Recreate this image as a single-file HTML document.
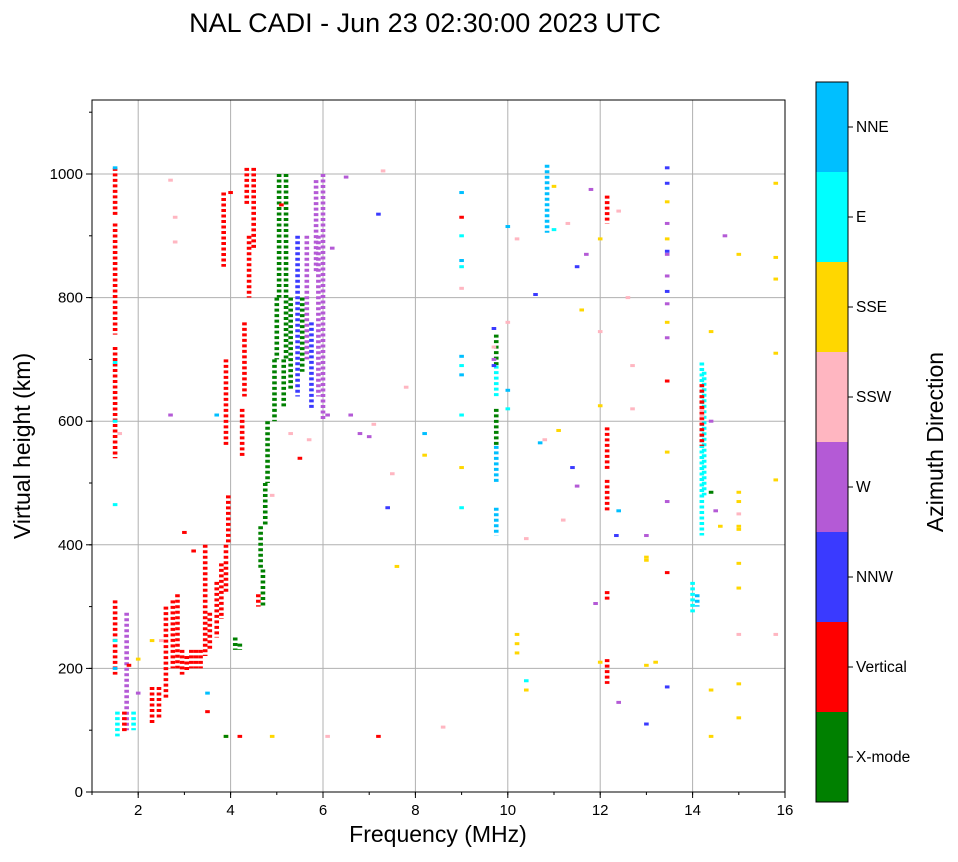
<!DOCTYPE html>
<html><head><meta charset="utf-8"><style>
html,body{margin:0;padding:0;background:#fff;}
svg text{font-family:"Liberation Sans",sans-serif;}
</style></head><body>
<svg id="chart" width="958" height="857" xmlns="http://www.w3.org/2000/svg">
<rect width="958" height="857" fill="#fff"/>
<text x="425" y="32" font-size="27" text-anchor="middle">NAL CADI - Jun 23 02:30:00 2023 UTC</text>
<g id="grid"></g>
<g id="marks"></g>
<rect x="92" y="100" width="693" height="692" fill="none" stroke="#000" stroke-width="1"/>
<g id="axes"></g>
<text x="438" y="842" font-size="23" text-anchor="middle">Frequency (MHz)</text>
<text x="30" y="446" font-size="23" text-anchor="middle" transform="rotate(-90 30 446)">Virtual height (km)</text>
<g id="cbar"></g>
<text x="943" y="442" font-size="23" text-anchor="middle" transform="rotate(-90 943 442)">Azimuth Direction</text>
</svg>
<script>
const colorNames=["X-mode","Vertical","NNW","W","SSW","SSE","E","NNE"];
const colorVals=["#008000","#ff0000","#3a3aff","#b45ad6","#ffb6c1","#ffd700","#00ffff","#00bfff"];
const xTicks=[2,4,6,8,10,12,14,16];
const yTicks=[0,200,400,600,800,1000];
// bars: freq, h0, h1, color index
const barF=[1.5,1.5,1.5,1.5,1.55,1.75,1.7,1.9,2.3,2.45,2.6,2.75,2.85,2.95,3.05,3.15,3.25,3.35,3.45,3.55,3.7,3.8,3.9,3.95,3.9,3.85,4.25,4.3,4.4,4.5,4.35,4.7,4.65,4.75,4.8,4.95,5.0,5.05,5.15,5.2,5.3,5.45,5.55,5.65,5.75,5.9,6.0,5.85,9.75,9.75,9.75,9.75,9.75,10.85,12.15,12.15,12.15,12.15,12.15,14.2,14.25,14.2,14.2,14.2,14.0,14.1,4.1,4.2,4.6];
const barH0=[540,740,930,190,90,100,95,100,110,120,150,200,200,190,195,200,200,200,220,230,250,280,320,400,560,850,540,640,800,880,950,300,360,430,500,600,700,800,620,700,650,640,680,700,620,640,600,840,415,500,560,640,690,905,455,520,175,310,920,415,480,560,600,640,290,300,230,230,300];
const barH1=[720,920,1010,310,130,290,130,130,170,170,300,310,320,230,220,230,230,230,400,290,340,370,400,480,700,970,620,760,900,1010,1010,360,430,500,600,700,800,1000,700,1000,800,900,800,900,760,900,1000,990,460,560,620,690,740,1015,505,590,215,325,965,695,680,660,620,620,340,320,250,240,320];
const barC=[1,1,1,1,6,3,1,6,1,1,1,1,1,1,1,1,1,1,1,1,1,1,1,1,1,1,1,1,1,1,1,0,0,0,0,0,0,0,0,0,0,2,0,3,2,3,3,3,7,7,0,6,0,7,1,1,1,1,1,6,6,1,4,1,6,7,0,0,1];
// dashes: freq, height, color index
const dF=[1.5,1.5,1.5,1.5,1.5,1.5,1.6,1.8,2.0,2.0,2.3,2.5,2.7,2.7,2.8,2.8,3.0,3.2,3.5,3.5,3.7,3.9,4.0,4.9,5.1,5.3,5.5,5.7,6.1,6.2,6.5,6.6,6.8,7.0,7.1,7.2,7.3,7.4,7.5,7.6,7.8,8.2,8.2,8.6,9.0,9.0,9.0,9.0,9.0,9.0,9.0,9.0,9.0,9.0,9.0,9.0,9.7,9.7,9.7,9.7,10.0,10.0,10.0,10.0,10.2,10.2,10.2,10.2,10.4,10.4,10.4,10.6,10.7,10.8,11.0,11.0,11.1,11.2,11.3,11.4,11.5,11.5,11.6,11.7,11.8,11.9,12.0,12.0,12.0,12.0,12.35,12.4,12.4,12.4,12.6,12.7,12.7,13.0,13.0,13.0,13.0,13.0,13.2,13.45,13.45,13.45,13.45,13.45,13.45,13.45,13.45,13.45,13.45,13.45,13.45,13.45,13.45,13.45,13.45,13.45,14.4,14.4,14.4,14.4,14.4,14.5,14.6,14.7,15.0,15.0,15.0,15.0,15.0,15.0,15.0,15.0,15.0,15.0,15.0,15.8,15.8,15.8,15.8,15.8,15.8,6.1,7.2,4.2,4.9,3.9];
const dH=[465,600,695,245,200,1010,580,205,215,160,245,245,610,990,930,890,420,390,130,160,610,90,970,480,950,580,540,570,610,880,995,610,580,575,595,935,1005,460,515,365,655,580,545,105,970,930,900,860,850,815,705,690,675,610,525,460,750,720,700,690,915,760,650,620,895,255,240,225,410,180,165,805,565,570,980,910,585,440,920,525,495,850,780,870,975,305,210,895,745,625,415,940,455,145,800,690,620,415,205,380,375,110,210,1010,985,955,920,895,870,835,810,790,760,735,665,550,470,355,170,875,745,600,165,90,485,455,430,900,870,485,470,450,430,425,370,330,255,120,175,985,865,830,710,505,255,90,90,90,90,90];
const dC=[6,6,6,6,7,7,4,1,5,3,5,4,3,4,4,4,1,1,1,7,7,5,1,4,1,4,1,4,3,3,3,3,3,3,4,2,4,2,4,5,4,7,5,4,7,1,6,7,6,4,7,6,7,6,5,6,2,4,3,2,7,4,7,6,4,5,5,5,4,6,5,2,7,4,5,6,5,4,4,2,3,2,5,3,3,3,5,5,4,5,2,4,7,3,4,4,4,3,5,5,5,2,5,2,2,5,3,5,3,3,2,3,5,3,1,5,3,1,2,2,5,3,5,5,0,3,5,3,5,5,5,4,5,5,5,5,4,5,5,5,5,5,5,5,4,4,1,1,5,0,5];
const X0=92,Xs=46.2,Y0=792,Ys=0.618;
const x=f=>X0+(f-1)*Xs, y=h=>Y0-h*Ys;
const NS="http://www.w3.org/2000/svg";
function mk(tag,attrs,parent){const e=document.createElementNS(NS,tag);for(const k in attrs)e.setAttribute(k,attrs[k]);parent.appendChild(e);return e;}
const grid=document.getElementById('grid'),marks=document.getElementById('marks'),axes=document.getElementById('axes'),cbar=document.getElementById('cbar');
xTicks.forEach(t=>{const l=mk('line',{x1:x(t),x2:x(t),y1:100,y2:792,stroke:'#b0b0b0','stroke-width':1},grid);


mk('line',{x1:x(t),x2:x(t),y1:792,y2:798,stroke:'#000'},axes);
const tx=mk('text',{x:x(t),y:815,'font-size':15,'text-anchor':'middle'},axes);tx.textContent=t;

});
for(let t=1;t<=16;t++)mk('line',{x1:x(t),x2:x(t),y1:792,y2:795,stroke:'#000'},axes);
yTicks.forEach(t=>{const l=mk('line',{x1:92,x2:785,y1:y(t),y2:y(t),stroke:'#b0b0b0','stroke-width':1},grid);


mk('line',{x1:86,x2:92,y1:y(t),y2:y(t),stroke:'#000'},axes);
const tx=mk('text',{x:83,y:y(t)+5,'font-size':15,'text-anchor':'end'},axes);tx.textContent=t;

});
for(let t=100;t<=1100;t+=100)mk('line',{x1:89,x2:92,y1:y(t),y2:y(t),stroke:'#000'},axes);
barF.forEach((f,i)=>{const r=mk('line',{x1:x(f),x2:x(f),y1:y(barH1[i]),y2:y(barH0[i]),stroke:colorVals[barC[i]],'stroke-width':4.6,'stroke-dasharray':'3 2.5'},marks);

});
dF.forEach((f,i)=>{const r=mk('rect',{x:x(f)-2.3,y:y(dH[i])-1.5,width:4.6,height:3,fill:colorVals[dC[i]]},marks);

});
colorNames.forEach((n,i)=>{const top=802-(i+1)*90;
const r=mk('rect',{x:816,y:top,width:32,height:90,fill:colorVals[i]},cbar);


mk('line',{x1:848,x2:853,y1:top+45,y2:top+45,stroke:'#000'},cbar);
const t=mk('text',{x:856,y:top+50,'font-size':15.5},cbar);t.textContent=n;

});
mk('rect',{x:816,y:82,width:32,height:720,fill:'none',stroke:'#000'},cbar);
</script>
</body></html>
